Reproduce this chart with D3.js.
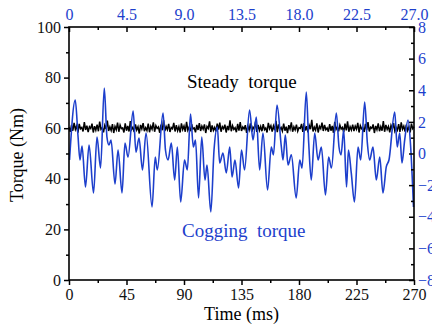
<!DOCTYPE html>
<html>
<head>
<meta charset="utf-8">
<script src="https://cdn.jsdelivr.net/npm/d3@7"></script>
<style>
  body { margin: 0; background: #fff; }
</style>
</head>
<body>
<svg class="chart"></svg>
<script>
// time axis (ms) and top axis (blue)
const timeTicks = [0, 45, 90, 135, 180, 225, 270];
const topTicks = [0, 4.5, 9.0, 13.5, 18.0, 22.5, 27.0];
const topLabels = ['0', '4.5', '9.0', '13.5', '18.0', '22.5', '27.0'];
const torqueTicks = [0, 20, 40, 60, 80, 100];
const coggTicks = [8, 6, 4, 2, 0, -2, -4, -6, -8];

// steady torque, sampled every 1 ms
const steadyStep = 1;
const steadyTorque = [
  60.4, 58.6, 61.3, 59.0, 62.1, 59.5, 60.9, 58.2, 61.7, 59.8,
  60.3, 58.7, 62.4, 59.3, 61.0, 58.5, 60.6, 59.9, 61.8, 58.3,
  60.8, 59.2, 61.4, 58.8, 62.6, 59.6, 60.2, 58.4, 61.1, 59.7,
  63.0, 58.9, 60.5, 59.1, 61.6, 58.1, 60.7, 59.4, 62.2, 58.6,
  61.2, 59.8, 60.1, 58.3, 61.9, 59.0, 60.9, 58.7, 62.8, 59.5,
  60.4, 58.5, 61.5, 59.3, 60.6, 57.9, 61.3, 59.7, 62.0, 58.8,
  60.2, 59.1, 61.8, 58.4, 60.8, 59.6, 62.3, 58.6, 61.0, 59.9,
  60.5, 58.2, 61.4, 59.2, 63.2, 58.9, 60.7, 59.4, 61.7, 58.5,
  60.3, 59.8, 62.1, 58.7, 61.2, 59.0, 60.6, 58.3, 61.9, 59.5,
  60.9, 58.6, 62.5, 59.2, 60.4, 58.8, 61.6, 59.7, 60.1, 58.4,
  61.3, 59.3, 62.0, 58.9, 60.8, 59.6, 61.5, 58.1, 60.7, 59.9,
  62.7, 58.5, 61.1, 59.1, 60.3, 58.7, 61.8, 59.4, 62.2, 58.6,
  60.6, 59.8, 61.4, 58.3, 60.9, 59.2, 63.1, 58.8, 61.0, 59.5,
  60.2, 58.4, 61.7, 59.0, 62.4, 58.9, 60.5, 59.7, 61.2, 58.2,
  60.8, 59.3, 61.9, 58.6, 60.4, 59.6, 62.6, 58.5, 61.3, 59.1,
  60.7, 58.8, 61.6, 59.4, 60.1, 58.3, 62.1, 59.8, 61.0, 58.7,
  60.9, 59.2, 62.9, 58.4, 61.5, 59.5, 60.3, 58.9, 61.8, 59.0,
  60.6, 58.1, 61.2, 59.7, 62.3, 58.6, 60.5, 59.3, 61.4, 58.8,
  60.2, 59.9, 61.7, 58.5, 62.0, 59.1, 60.8, 58.4, 61.1, 59.6,
  63.3, 58.7, 60.4, 59.2, 61.9, 58.3, 60.7, 59.8, 62.2, 58.9,
  61.3, 59.4, 60.1, 58.6, 61.6, 59.0, 60.9, 58.2, 62.5, 59.5,
  60.5, 58.8, 61.2, 59.7, 60.3, 58.4, 61.8, 59.1, 62.7, 58.6,
  60.6, 59.3, 61.4, 58.9, 60.8, 59.6, 62.1, 58.3, 61.0, 59.8,
  60.2, 58.5, 61.7, 59.2, 62.4, 58.7, 60.4, 59.9, 61.5, 58.1,
  60.9, 59.4, 61.9, 58.8, 60.6, 59.0, 62.8, 58.6, 61.3, 59.5,
  60.7, 58.4, 61.1, 59.7, 62.0, 58.9, 60.3, 59.2, 61.6, 58.5,
  62.3, 59.6, 60.8, 58.7, 61.4, 59.1, 60.5, 58.3, 61.8, 59.8,
  60.6
];

// cogging torque (right axis, Nm) read at turning points
const coggTime = [
  0.4, 4.9, 7.0, 8.6, 10.2, 12.9, 15.7, 19.2, 21.9, 24.7,
  27.6, 29.7, 31.3, 32.9, 36.0, 38.4, 41.5, 43.8, 46.2, 50.2,
  52.4, 54.8, 57.5, 60.3, 65.0, 67.5, 69.1, 73.6, 75.5, 77.5,
  80.1, 82.7, 84.8, 87.4, 90.4, 92.6, 95.1, 97.3, 99.0, 101.4,
  103.9, 106.4, 108.0, 111.0, 113.5, 116.1, 117.9, 120.5, 123.1, 125.8,
  127.6, 129.9, 132.7, 135.0, 137.4, 141.3, 144.0, 146.6, 149.2, 151.8,
  155.4, 158.3, 160.0, 162.8, 166.2, 167.5, 169.3, 171.4, 174.0, 177.8,
  180.6, 182.4, 185.7, 187.6, 189.6, 192.3, 194.9, 197.5, 200.7, 203.2,
  205.4, 209.2, 211.3, 212.9, 215.0, 217.2, 218.7, 220.9, 223.4, 226.2,
  228.3, 231.4, 233.5, 235.3, 237.9, 240.5, 243.2, 245.7, 248.3, 250.4,
  254.9, 256.9, 258.8, 260.6, 262.7, 265.3, 267.4, 269.6
];
const coggTorque = [
  -0.41, 3.38, 1.17, -0.41, 0.47, -2.12, 0.54, -2.50, 1.04, -0.92,
  4.14, 1.04, 0.54, 0.85, -1.93, 0.22, -2.50, 0.66, -0.22, 2.69,
  0.09, 0.98, -1.04, 1.30, -3.38, -0.22, -1.04, 2.56, 0.22, -0.41,
  0.66, -1.68, 0.41, -3.07, -0.41, -1.04, 2.50, 0.41, 0.85, -2.81,
  1.04, -1.68, -0.73, -3.70, 0.22, 1.68, -0.60, 0.03, -1.23, 0.41,
  -1.49, -0.41, -2.18, 0.22, -1.04, 2.75, 0.85, 2.31, -1.04, 1.30,
  -2.31, 0.41, -0.09, 3.07, 0.41, -0.41, 1.17, -0.73, -0.09, -2.81,
  -0.41, -0.92, 3.89, 0.66, -1.68, 1.30, -0.41, 0.41, -2.62, -0.22,
  -0.92, 2.56, 0.41, -0.09, 1.49, -2.12, 0.22, -1.23, -3.07, 0.41,
  -0.41, 3.26, 0.66, -0.41, 0.41, -1.68, -0.22, -2.50, -0.85, -0.41,
  2.62, 0.41, 1.30, -0.60, 0.85, 2.12, 0.41, -3.38
];

const width = 432, height = 331;
const mLeft = 69, mRight = 414, mTop = 27, mBottom = 280;
const blue = '#1d3fcc';
const serif = '"Liberation Serif", "Times New Roman", serif';

const svg = d3.select('.chart').attr('width', width).attr('height', height);

const x = d3.scaleLinear().domain([0, 270]).range([mLeft, mRight]);
const xTop = d3.scaleLinear().domain([0, 27]).range([mLeft, mRight]);
const y = d3.scaleLinear().domain([0, 100]).range([mBottom, mTop]);
const yR = d3.scaleLinear().domain([-8, 8]).range([mBottom, mTop]);

// lines
const steadyLine = d3.line()
  .x((d, i) => x(i * steadyStep))
  .y(d => y(d));
svg.append('path')
  .datum(steadyTorque)
  .attr('d', steadyLine)
  .attr('fill', 'none')
  .attr('stroke', '#000')
  .attr('stroke-width', 1.5);

const coggLine = d3.line()
  .x((d, i) => x(coggTime[i]))
  .y(d => yR(d))
  .curve(d3.curveMonotoneX);
svg.append('path')
  .datum(coggTorque)
  .attr('d', coggLine)
  .attr('fill', 'none')
  .attr('stroke', blue)
  .attr('stroke-width', 1.6);

// axes
function minorBetween(ticks) {
  const out = [];
  for (let i = 0; i < ticks.length - 1; i++) out.push((ticks[i] + ticks[i + 1]) / 2);
  return out;
}

svg.append('g').attr('transform', `translate(0,${mBottom})`)
  .call(d3.axisBottom(x).tickValues(timeTicks).tickSize(5).tickPadding(4).tickSizeOuter(0));
svg.append('g').attr('transform', `translate(0,${mBottom})`)
  .call(d3.axisBottom(x).tickValues(minorBetween(timeTicks)).tickSize(3).tickFormat('').tickSizeOuter(0));

svg.append('g').attr('transform', `translate(${mLeft},0)`)
  .call(d3.axisLeft(y).tickValues(torqueTicks).tickSize(5).tickPadding(3).tickSizeOuter(0));
svg.append('g').attr('transform', `translate(${mLeft},0)`)
  .call(d3.axisLeft(y).tickValues(minorBetween(torqueTicks)).tickSize(3).tickFormat('').tickSizeOuter(0));

const topAxis = svg.append('g').attr('transform', `translate(0,${mTop})`)
  .call(d3.axisTop(xTop).tickValues(topTicks).tickFormat((d, i) => topLabels[i])
    .tickSize(-5).tickPadding(7).tickSizeOuter(0));
svg.append('g').attr('transform', `translate(0,${mTop})`)
  .call(d3.axisTop(xTop).tickValues(minorBetween(topTicks)).tickSize(-3).tickFormat('').tickSizeOuter(0));

const rightAxis = svg.append('g').attr('transform', `translate(${mRight},0)`)
  .call(d3.axisRight(yR).tickValues(coggTicks).tickSize(-5).tickPadding(4).tickSizeOuter(0));
svg.append('g').attr('transform', `translate(${mRight},0)`)
  .call(d3.axisRight(yR).tickValues(minorBetween(coggTicks)).tickSize(-3).tickFormat('').tickSizeOuter(0));

svg.selectAll('.domain').remove();
svg.selectAll('g').attr('font-family', serif).attr('font-size', 16);
svg.selectAll('.tick line').attr('stroke', '#000').attr('stroke-width', 1.5);
svg.selectAll('.tick text').attr('fill', '#111');
topAxis.selectAll('.tick text').attr('fill', blue);
rightAxis.selectAll('.tick text').attr('fill', blue);

// frame
svg.append('rect')
  .attr('x', mLeft).attr('y', mTop)
  .attr('width', mRight - mLeft).attr('height', mBottom - mTop)
  .attr('fill', 'none').attr('stroke', '#000').attr('stroke-width', 1.6);

// titles and labels
svg.append('text')
  .attr('x', (mLeft + mRight) / 2).attr('y', 320)
  .attr('text-anchor', 'middle')
  .attr('font-family', serif).attr('font-size', 18)
  .text('Time (ms)');

svg.append('text')
  .attr('transform', 'translate(23,155) rotate(-90)')
  .attr('text-anchor', 'middle')
  .attr('font-family', serif).attr('font-size', 18)
  .text('Torque (Nm)');

svg.append('text')
  .attr('x', 187).attr('y', 88)
  .attr('font-family', serif).attr('font-size', 19)
  .attr('xml:space', 'preserve')
  .style('white-space', 'pre')
  .text('Steady  torque');

svg.append('text')
  .attr('x', 182).attr('y', 237)
  .attr('font-family', serif).attr('font-size', 19)
  .attr('xml:space', 'preserve')
  .style('white-space', 'pre')
  .attr('fill', blue)
  .text('Cogging  torque');
</script>
</body>
</html>
